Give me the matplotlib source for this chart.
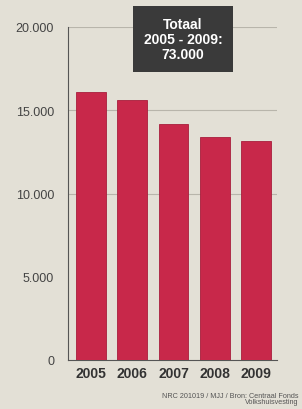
import matplotlib.pyplot as plt

plt.rcParams["font.family"] = "Liberation Sans"

years = ["2005", "2006", "2007", "2008", "2009"]
values = [16100, 15600, 14200, 13400, 13150]
y_ticks = [0, 5000, 10000, 15000, 20000]
y_labels = ["0", "5.000", "10.000", "15.000", "20.000"]

bg = "#e3e0d6"
bar_color = "#c8284a"

fig = plt.figure(figsize=(3.02, 4.10), dpi=100, facecolor=bg)
ax = fig.add_axes([68/302, 1 - 361/410, (277-68)/302, (361-28)/410], facecolor=bg)

x = range(len(years))
ax.bar(x, values, width=0.72, color=bar_color, edgecolor="#a81e3c", linewidth=0.6, zorder=3)

ax.set_ylim(0, 20000)
ax.set_xlim(-0.55, 4.5)
ax.set_yticks(y_ticks)
ax.set_yticklabels(y_labels, fontsize=9, color="#444444")
ax.set_xticks(list(x))
ax.set_xticklabels(years, fontsize=10, fontweight="bold", color="#333333")
ax.tick_params(length=0, pad=4)
ax.tick_params(axis="y", pad=10)

for v in [10000, 15000, 20000]:
    ax.axhline(v, color="#b8b5ab", linewidth=0.8, zorder=1)

for s in ["top", "right"]:
    ax.spines[s].set_visible(False)
ax.spines["left"].set_color("#555555")
ax.spines["bottom"].set_color("#555555")
ax.spines["left"].set_linewidth(0.8)
ax.spines["bottom"].set_linewidth(0.8)

fig.text(183/302, 1 - 40/410, "Totaal\n2005 - 2009:\n73.000", ha="center", va="center",
         fontsize=10, fontweight="bold", color="white", linespacing=1.1,
         bbox=dict(boxstyle="square,pad=0.75", facecolor="#3a3a3a", edgecolor="none"))

fig.text(298/302, 1 - 393/410, "NRC 201019 / MJJ / Bron: Centraal Fonds\nVolkshuisvesting",
         ha="right", va="top", fontsize=5.2, color="#555555", linespacing=0.9)

fig.savefig("out.png", dpi=100, facecolor=bg)
